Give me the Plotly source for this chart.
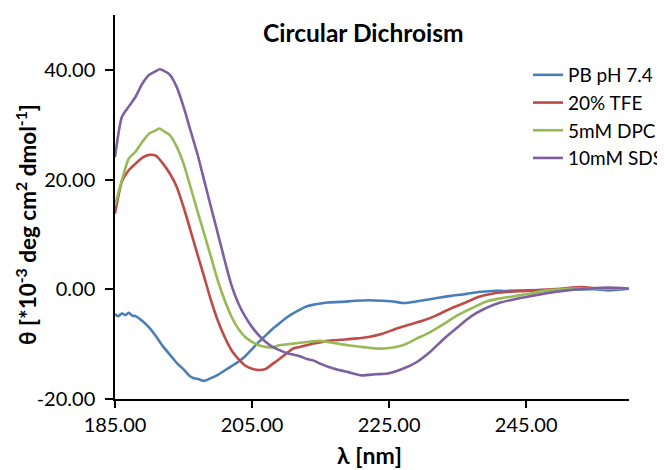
import plotly.graph_objects as go

# Wavelength samples (nm) and ellipticity (x10^-3 deg cm2 dmol-1)
wl_pb = [185, 185.5, 186, 186.5, 187, 187.5, 188, 189, 190, 191, 192, 193, 194, 195, 196, 196.5, 197, 198, 199, 200, 201, 202, 203, 204, 205, 206, 207, 208, 209, 210, 211, 212, 213, 214, 215, 216, 218, 220, 222, 224, 226, 227, 228, 230, 232, 234, 236, 238, 240, 242, 245, 250, 255, 257, 260]
pb = [-4.5, -4.9, -4.4, -4.7, -4.3, -4.8, -4.9, -5.8, -7.0, -8.6, -10.4, -11.9, -13.4, -14.6, -15.9, -16.2, -16.3, -16.7, -16.2, -15.6, -14.8, -14.0, -13.2, -12.2, -10.9, -9.6, -8.4, -7.2, -6.2, -5.2, -4.4, -3.7, -3.1, -2.8, -2.6, -2.4, -2.3, -2.1, -2.0, -2.1, -2.3, -2.5, -2.4, -2.0, -1.6, -1.2, -0.9, -0.5, -0.3, -0.3, -0.2, -0.1, 0.0, -0.2, 0.1]

wl_tfe = [185, 186, 187, 188, 189, 190, 191, 192, 193, 194, 195, 196, 197, 198, 199, 200, 201, 202, 203, 204, 205, 206, 207, 208, 209, 210, 211, 212, 214, 216, 218, 220, 222, 224, 226, 228, 230, 232, 234, 236, 238, 240, 242, 245, 250, 253, 256, 260]
tfe = [13.8, 19.6, 21.7, 22.9, 24.0, 24.5, 24.3, 22.9, 21.1, 18.7, 15.0, 10.8, 6.5, 2.3, -2.0, -5.7, -8.7, -11.1, -12.7, -13.9, -14.5, -14.7, -14.5, -13.6, -12.7, -11.7, -10.8, -10.5, -9.9, -9.4, -9.2, -9.0, -8.7, -8.1, -7.2, -6.4, -5.7, -4.7, -3.5, -2.5, -1.4, -0.8, -0.5, -0.3, 0.1, 0.4, 0.1, 0.1]

wl_dpc = [185, 186, 187, 188, 189, 190, 191, 191.5, 192, 193, 194, 195, 196, 197, 198, 199, 200, 201, 202, 203, 204, 205, 206, 207, 208, 209, 211, 213, 215, 217, 219, 221, 223, 225, 227, 229, 231, 233, 235, 237, 239, 241, 243, 245, 248, 251, 255, 260]
dpc = [15.3, 19.9, 23.8, 25.1, 26.9, 28.4, 29.0, 29.3, 28.9, 28.1, 26.0, 22.9, 18.7, 14.4, 10.2, 5.9, 1.6, -2.0, -5.0, -7.2, -8.7, -9.6, -10.2, -10.5, -10.6, -10.2, -9.9, -9.6, -9.4, -9.8, -10.2, -10.5, -10.8, -10.7, -10.2, -9.0, -7.8, -6.3, -4.7, -3.5, -2.3, -1.7, -1.3, -0.9, -0.2, 0.1, 0.1, 0.1]

wl_sds = [185, 186, 187, 188, 189, 190, 191, 191.5, 192, 193, 194, 195, 196, 197, 198, 199, 200, 201, 202, 203, 204, 205, 206, 207, 208, 209, 210, 211, 212, 213, 214, 215, 217, 219, 221, 223, 225, 227, 229, 231, 233, 235, 237, 239, 241, 243, 245, 248, 251, 254, 257, 260]
sds = [24.1, 31.4, 33.3, 35.1, 37.5, 39.1, 39.8, 40.1, 39.9, 39.1, 36.9, 33.3, 29.0, 24.8, 19.9, 15.0, 10.2, 5.3, 0.7, -2.6, -5.0, -6.9, -8.4, -9.6, -10.5, -11.1, -11.6, -11.9, -12.2, -12.7, -13.0, -13.6, -14.5, -15.1, -15.7, -15.5, -15.3, -14.5, -13.3, -11.4, -9.0, -6.9, -4.9, -3.5, -2.5, -1.9, -1.4, -0.7, -0.2, 0.1, 0.3, 0.1]

names = ["PB pH 7.4", "20% TFE", "5mM DPC", "10mM SDS"]
colors = ["#4A7EBB", "#BE4B48", "#98B954", "#7D60A0"]
x_ticks = [185, 205, 225, 245]
y_ticks = [-20, 0, 20, 40]

FONT = "Lato, 'Open Sans', sans-serif"
OFF = 8                      # default page body margin shifts the figure by 8 px
W, H = 665 - OFF, 470 - OFF
PL, PR, PT, PB = 115, 629, 15, 399   # plot area in page pixels
ML, MT = PL - OFF, PT - OFF
pw, ph = PR - PL, PB - PT
MR, MB = W - ML - pw, H - MT - ph


def px(xp):
    return (xp - PL) / pw


def py(yp):
    return (PB - yp) / ph


fig = go.Figure()
for xs, ys, n, c in zip([wl_pb, wl_tfe, wl_dpc, wl_sds], [pb, tfe, dpc, sds], names, colors):
    fig.add_trace(go.Scatter(x=xs, y=ys, name=n, mode="lines",
                             line=dict(color=c, width=2.6, shape="spline", smoothing=0.6)))

fig.update_layout(
    width=W, height=H,
    margin=dict(l=ML, r=MR, t=MT, b=MB, autoexpand=False),
    paper_bgcolor="white", plot_bgcolor="white",
    font=dict(family=FONT, size=19, color="black"),
    showlegend=True,
    legend=dict(x=px(528), y=py(56), xanchor="left", yanchor="top",
                font=dict(size=19, family=FONT), tracegroupgap=0,
                bgcolor="rgba(0,0,0,0)"),
    xaxis=dict(range=[185, 260], tickvals=x_ticks, ticktext=[f"{v:.2f}" for v in x_ticks],
               automargin=False,
               showline=True, linecolor="black", linewidth=1.5,
               ticks="outside", ticklen=7, tickcolor="black", tickwidth=1.5,
               showgrid=False, zeroline=False, tickfont=dict(size=20)),
    yaxis=dict(range=[-20, 50], tickvals=y_ticks, ticktext=[f"{v:.2f}" for v in y_ticks],
               automargin=False,
               showline=True, linecolor="black", linewidth=1.5,
               ticks="outside", ticklen=8, tickcolor="black", tickwidth=1.5,
               ticklabelstandoff=6,
               showgrid=False, zeroline=False, tickfont=dict(size=20)),
    annotations=[
        dict(text="<b>Circular Dichroism</b>", xref="paper", yref="paper",
             x=px(363), y=py(32), xanchor="center", yanchor="middle",
             showarrow=False, font=dict(size=24.5, family=FONT)),
        dict(text="<b>λ [nm]</b>", xref="paper", yref="paper",
             x=px(369), y=py(455), xanchor="center", yanchor="middle",
             showarrow=False, font=dict(size=23, family=FONT)),
        dict(text="<b>θ [*10<sup>-3</sup> deg cm<sup>2</sup> dmol<sup>-1</sup>]</b>",
             xref="paper", yref="paper", textangle=-90,
             x=px(26), y=py(225), xanchor="center", yanchor="middle",
             showarrow=False, font=dict(size=22.5, family=FONT)),
    ],
)

fig.write_html("out.html")
